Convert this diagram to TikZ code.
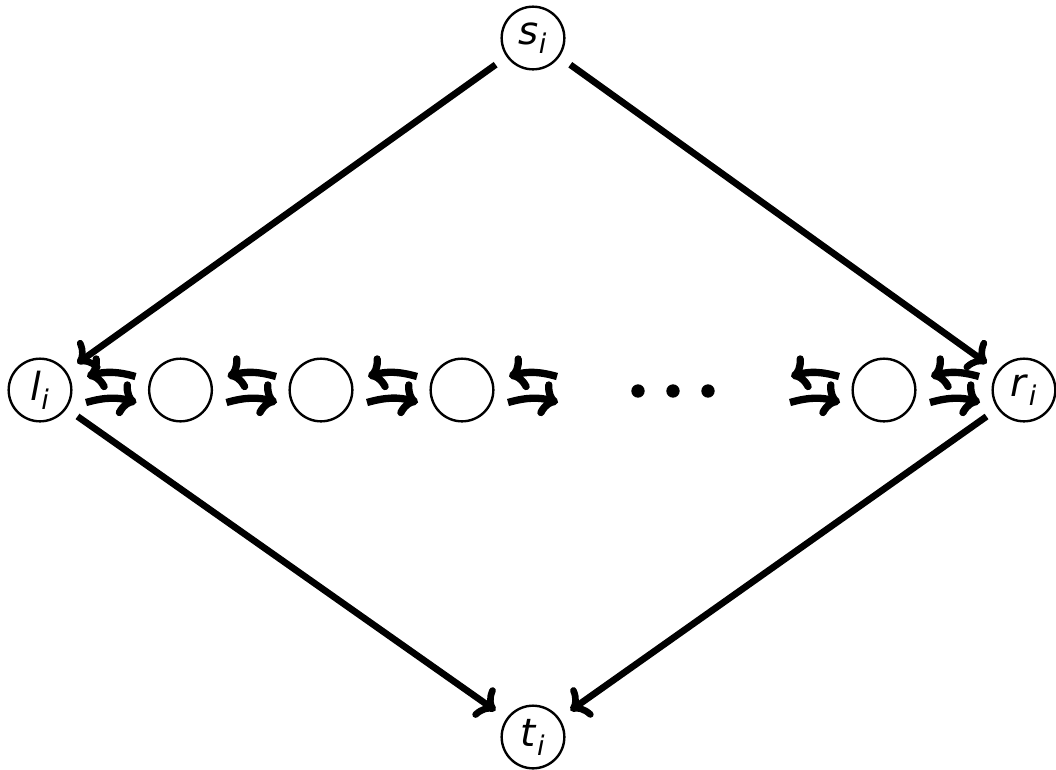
\documentclass[tikz,border=0pt]{standalone}
\usepackage{fontspec}
\setmainfont{DejaVu Sans}
\usetikzlibrary{calc,arrows.meta}
\newcommand\vlabel[2]{\textit{#1}\textsubscript{\textit{#2}}}

\begin{document}
\begin{tikzpicture}[x=0.75pt,y=-0.75pt,
  vertex/.style={circle,draw,line width=1.8pt,minimum size=47pt,inner sep=0pt,
    font=\fontsize{29}{34}\selectfont},
  tip/.style={-{To[length=13pt,width=27pt]}},
  edge/.style={line width=5pt,tip,shorten <=10pt,shorten >=10pt},
  pairarrow/.style={line width=5.5pt,tip},
  dotmark/.style={circle,fill,inner sep=0pt,minimum size=10pt}]
\useasboundingbox (0,0) rectangle (1056,769);

% terminals
\node[vertex] (s) at (533,38) {\vlabel{s}{i}};
\node[vertex] (t) at (533,737) {\vlabel{t}{i}};
\node[vertex] (l) at (40,390) {\vlabel{l}{i}};
\node[vertex] (r) at (1024,390) {\vlabel{r}{i}};

% chain of inner vertices
\node[vertex] (c1) at (180.5,390) {};
\node[vertex] (c2) at (321,390) {};
\node[vertex] (c3) at (462,390) {};
\node[vertex] (c4) at (884,390) {};
\coordinate (g1) at (602,390);
\coordinate (g2) at (744,390);

% ellipsis
\node[dotmark] (e1) at (638,391) {};
\node[dotmark] (e2) at (673,391) {};
\node[dotmark] (e3) at (708,391) {};

% outer diamond
\draw[edge] (s) -- (l);
\draw[edge] (s) -- (r);
\draw[edge] (l) -- (t);
\draw[edge] (r) -- (t);

% two-way arrows along the chain
\foreach \a/\b in {l/c1,c1/c2,c2/c3,c3/g1,g2/c4,c4/r}{
  \draw[pairarrow] ($(\b)+(-45,-13.5)$) to[bend right=16] ($(\a)+(47,-13.5)$);
  \draw[pairarrow] ($(\a)+(46,12.5)$) to[bend left=16] ($(\b)+(-44,12.5)$);
}
\end{tikzpicture}
\end{document}
